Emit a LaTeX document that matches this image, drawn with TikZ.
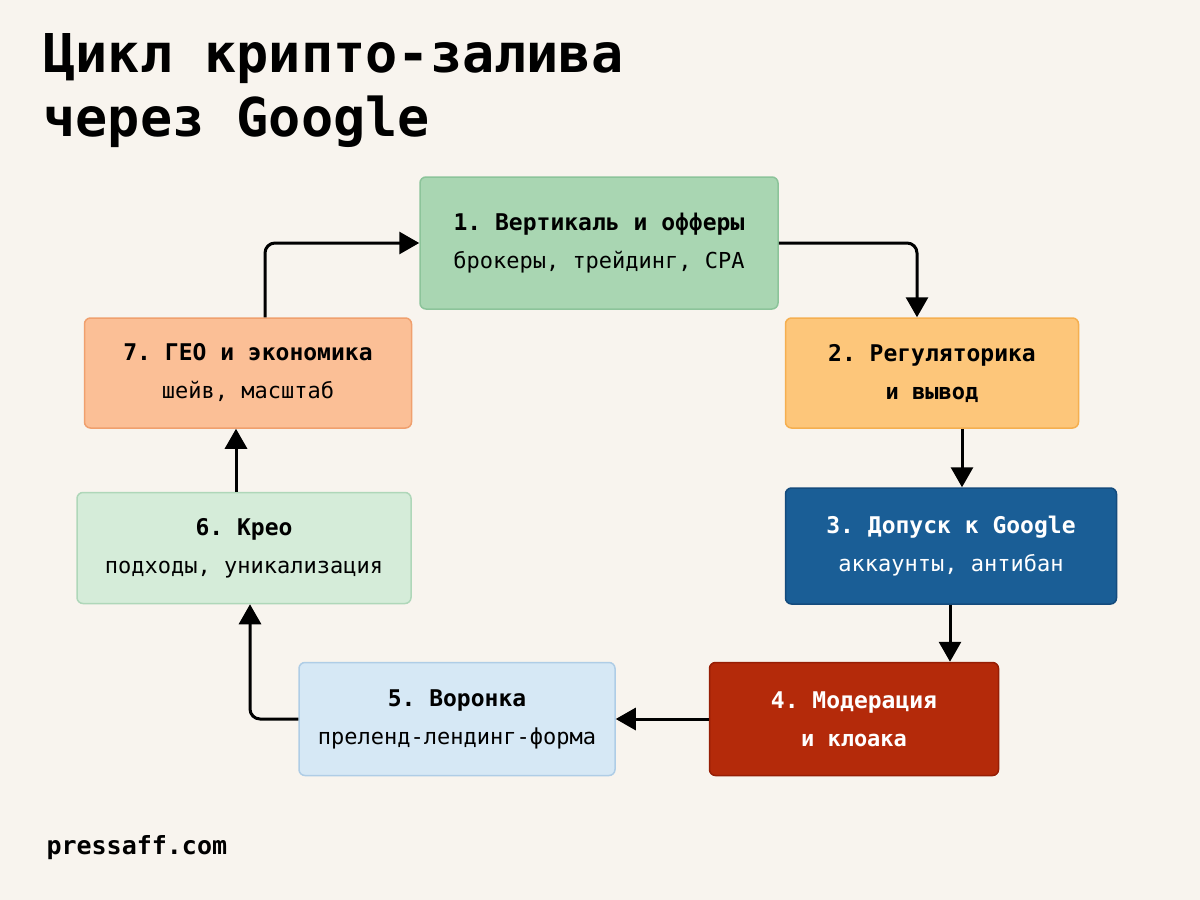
\documentclass[tikz,border=0pt]{standalone}
\usepackage{fontspec}
\setmonofont{DejaVu Sans Mono}
\usetikzlibrary{arrows.meta}
\definecolor{bg}{HTML}{F8F4EE}
\definecolor{c1f}{HTML}{A9D6B2}\definecolor{c1d}{HTML}{8CC49A}
\definecolor{c2f}{RGB}{253,198,122}\definecolor{c2d}{RGB}{245,175,80}
\definecolor{c3f}{RGB}{26,94,150}\definecolor{c3d}{RGB}{20,75,125}
\definecolor{c4f}{RGB}{180,42,10}\definecolor{c4d}{RGB}{150,30,5}
\definecolor{c5f}{RGB}{214,232,245}\definecolor{c5d}{RGB}{175,205,230}
\definecolor{c6f}{RGB}{213,236,217}\definecolor{c6d}{RGB}{175,215,185}
\definecolor{c7f}{RGB}{251,191,150}\definecolor{c7d}{RGB}{240,160,110}
\newcommand{\bx}[2]{{\bfseries\fontsize{23}{38}\selectfont #1}\\{\fontsize{22}{38}\selectfont #2}}
\begin{document}
\begin{tikzpicture}[x=1pt,y=-1pt,
 box/.style={draw, line width=1.5pt, rounded corners=6pt, align=center, font=\ttfamily\fontsize{22}{38}\selectfont, inner sep=0pt},
 arr/.style={line width=3pt, -{Triangle[length=20pt,width=22pt]}, rounded corners=10pt}]
\fill[bg] (0,0) rectangle (1200,900);
\useasboundingbox (0,0) rectangle (1200,900);
\node[anchor=north west, align=left, font=\ttfamily\bfseries\fontsize{53.5}{64}\selectfont] (title) at (40,30) {Цикл крипто-залива\\через Google};
\node[anchor=south west, font=\ttfamily\bfseries\fontsize{25}{28}\selectfont] (foot) at (43,863) {pressaff.com};
\node[box, fill=c1f, draw=c1d, minimum width=358, minimum height=132] (b1) at (599,243) {\bx{1. Вертикаль и офферы}{брокеры, трейдинг, CPA}};
\node[box, fill=c2f, draw=c2d, minimum width=293, minimum height=110] (b2) at (932,373) {\bx{2. Регуляторика}{\bfseries и вывод}};
\node[box, fill=c3f, draw=c3d, text=white, minimum width=331, minimum height=116] (b3) at (951,546) {\bx{3. Допуск к Google}{аккаунты, антибан}};
\node[box, fill=c4f, draw=c4d, text=white, minimum width=289, minimum height=113] (b4) at (854,719) {\bx{4. Модерация}{\bfseries и клоака}};
\node[box, fill=c5f, draw=c5d, minimum width=316, minimum height=113] (b5) at (457,719) {\bx{5. Воронка}{преленд-лендинг-форма}};
\node[box, fill=c6f, draw=c6d, minimum width=334, minimum height=111] (b6) at (244,548) {\bx{6. Крео}{подходы, уникализация}};
\node[box, fill=c7f, draw=c7d, minimum width=327, minimum height=110] (b7) at (248,373) {\bx{7. ГЕО и экономика}{шейв, масштаб}};
\draw[arr] ([xshift=17]b7.north) |- (b1.west);
\draw[arr] (b1.east) -| ([xshift=-15]b2.north);
\draw[arr] ([xshift=30]b2.south) -- ([xshift=11]b3.north);
\draw[arr] ([xshift=-1]b3.south) -- ([xshift=96]b4.north);
\draw[arr] (b4.west) -- (b5.east);
\draw[arr] (b5.west) -| ([xshift=6]b6.south);
\draw[arr] ([xshift=-8]b6.north) -- ([xshift=-12]b7.south);
\end{tikzpicture}
\end{document}
